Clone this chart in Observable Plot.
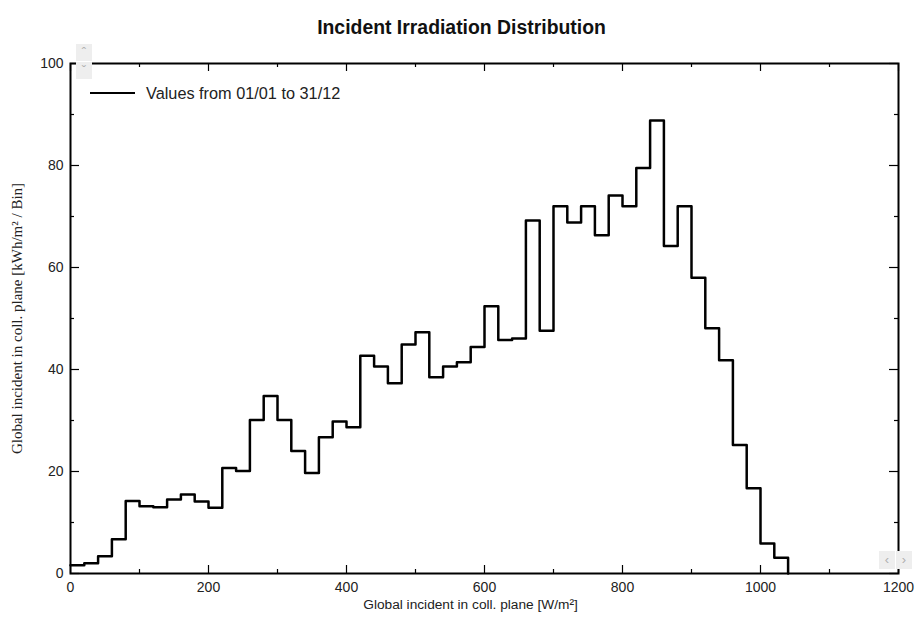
<!DOCTYPE html>
<html>
<head>
<meta charset="utf-8">
<script src="https://cdn.jsdelivr.net/npm/d3@7"></script>
<script src="https://cdn.jsdelivr.net/npm/@observablehq/plot@0.6"></script>
<style>
  html, body { margin: 0; padding: 0; background: #fff; }
  #wrap { position: relative; width: 919px; height: 623px; font-family: "Liberation Sans", Arial, sans-serif; }
  #legend { position: absolute; left: 90px; top: 83px; display: flex; align-items: center; font-size: 16.3px; line-height: 20px; color: #222; }
  #legend .sw { width: 45px; height: 0; border-top: 2.5px solid #000; margin-right: 11px; }
  .btn { position: absolute; background: #eeeeee; color: #b0b0b0; font-size: 13px; text-align: center; }
</style>
</head>
<body>
<div id="wrap"></div>
<script>
// Bin left edges [W/m²] and irradiation per bin [kWh/m² / Bin]
const binEdges = [0,20,40,60,80,100,120,140,160,180,200,220,240,260,280,300,320,340,360,380,400,420,440,460,480,500,520,540,560,580,600,620,640,660,680,700,720,740,760,780,800,820,840,860,880,900,920,940,960,980,1000,1020,1040];
const binValues = [1.6,2.0,3.4,6.7,14.2,13.2,13.0,14.5,15.5,14.1,12.9,20.7,20.1,30.1,34.8,30.1,24.0,19.7,26.7,29.8,28.7,42.7,40.6,37.3,44.9,47.3,38.5,40.6,41.4,44.4,52.4,45.8,46.1,69.2,47.6,72.0,68.8,72.0,66.3,74.1,72.0,79.5,88.8,64.2,72.0,58.0,48.1,41.8,25.2,16.7,5.9,3.1,0];
const xMajorTicks = [0,200,400,600,800,1000,1200];
const xMinorTicks = [100,300,500,700,900,1100];
const yMajorTicks = [0,20,40,60,80,100];
const yMinorTicks = [10,30,50,70,90];
const title = "Incident Irradiation Distribution";
const xLabel = "Global incident in coll. plane [W/m²]";
const yLabel = "Global incident in coll. plane [kWh/m² / Bin]";
const legendLabel = "Values from 01/01 to 31/12";

const data = binEdges.map((x, i) => ({x, y: binValues[i]}));

const W = 919, H = 623, mL = 70, mR = 21, mT = 63, mB = 50;
const fh = H - mT - mB, fw = W - mL - mR;

const chart = Plot.plot({
  width: W, height: H,
  marginLeft: mL, marginRight: mR, marginTop: mT, marginBottom: mB,
  style: {fontFamily: "Liberation Sans, Arial, sans-serif", fontSize: "14px", color: "#222", background: "#fff"},
  x: {domain: [0, 1200]},
  y: {domain: [0, 100]},
  marks: [
    Plot.axisX({ticks: xMajorTicks, tickSize: 0, tickPadding: 9, tickFormat: d => String(d), label: null, fontSize: 14}),
    Plot.axisY({ticks: yMajorTicks, tickSize: 0, tickPadding: 7, tickFormat: d => String(d), label: null, fontSize: 14}),
    // inward ticks: bottom / top
    Plot.tickX(xMajorTicks, {x: d => d, insetTop: fh - 8, stroke: "#000", strokeWidth: 1.2}),
    Plot.tickX(xMinorTicks, {x: d => d, insetTop: fh - 4, stroke: "#000", strokeWidth: 1.2}),
    Plot.tickX(xMajorTicks, {x: d => d, insetBottom: fh - 8, stroke: "#000", strokeWidth: 1.2}),
    Plot.tickX(xMinorTicks, {x: d => d, insetBottom: fh - 4, stroke: "#000", strokeWidth: 1.2}),
    // inward ticks: left / right
    Plot.tickY(yMajorTicks, {y: d => d, insetRight: fw - 9, stroke: "#000", strokeWidth: 1.2}),
    Plot.tickY(yMinorTicks, {y: d => d, insetRight: fw - 4, stroke: "#000", strokeWidth: 1.2}),
    Plot.tickY(yMajorTicks, {y: d => d, insetLeft: fw - 9, stroke: "#000", strokeWidth: 1.2}),
    Plot.tickY(yMinorTicks, {y: d => d, insetLeft: fw - 4, stroke: "#000", strokeWidth: 1.2}),
    Plot.line(data, {x: "x", y: "y", curve: "step-after", stroke: "#000", strokeWidth: 2.5}),
    Plot.frame({stroke: "#000", strokeWidth: 2}),
    Plot.text([title], {frameAnchor: "top", dy: -43, dx: -23, fontSize: 19.4, fontWeight: "bold", fill: "#111"}),
    Plot.text([xLabel], {frameAnchor: "bottom", dy: 35, dx: -14, fontSize: 13.7, fill: "#222"}),
    Plot.text([yLabel], {frameAnchor: "left", textAnchor: "middle", dx: -53, rotate: -90, fontSize: 15, fontFamily: "Liberation Serif, Times New Roman, serif", fill: "#222"})
  ]
});

const wrap = document.getElementById("wrap");
wrap.appendChild(chart);
chart.style.position = "absolute";
chart.style.left = "0px";
chart.style.top = "0px";

const legend = document.createElement("div");
legend.id = "legend";
legend.innerHTML = '<div class="sw"></div><span></span>';
legend.querySelector("span").textContent = legendLabel;
wrap.appendChild(legend);

// scroll button artifacts
[["76px","44px","16px","17px","&#710;"],["76px","62px","16px","17px","&#711;"],["879px","551px","16px","18px","&#8249;"],["896px","551px","16px","18px","&#8250;"]].forEach(([l,t,w,h,c]) => {
  const b = document.createElement("div");
  b.className = "btn";
  Object.assign(b.style, {left: l, top: t, width: w, height: h, lineHeight: h});
  b.innerHTML = c;
  wrap.appendChild(b);
});
</script>
</body>
</html>
